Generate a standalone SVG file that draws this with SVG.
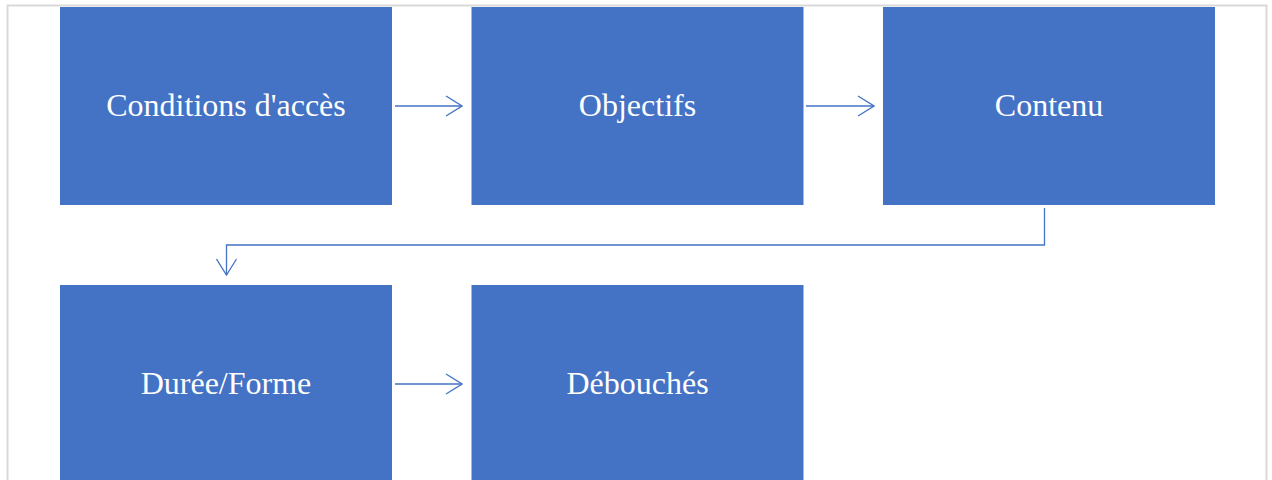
<svg xmlns="http://www.w3.org/2000/svg" width="1272" height="480" viewBox="0 0 1272 480">
<defs>
<style>
.box{fill:#4472c4}
.lbl{fill:#fff;font-family:"Liberation Serif","Times New Roman",serif;font-size:32px;text-anchor:middle;dominant-baseline:central}
.con{fill:none;stroke:#4472c4;stroke-width:1.3}
</style>
<marker id="ah" viewBox="0 0 18 22" refX="17" refY="11" markerWidth="18" markerHeight="22" markerUnits="userSpaceOnUse" orient="auto">
<path d="M1,1 L17,11 L1,21" fill="none" stroke="#4472c4" stroke-width="1.3"/>
</marker>
</defs>
<rect x="0" y="0" width="1272" height="480" fill="#fff"/>
<rect x="7.5" y="5.5" width="1259" height="480" fill="none" stroke="#d9d9d9" stroke-width="2"/>
<g id="n1"><rect class="box" x="60" y="7" width="332" height="198"/><text class="lbl" x="226" y="105">Conditions d'accès</text></g>
<g id="n2"><rect class="box" x="471.5" y="7" width="332" height="198"/><text class="lbl" x="637.5" y="105">Objectifs</text></g>
<g id="n3"><rect class="box" x="883" y="7" width="332" height="198"/><text class="lbl" x="1049" y="105">Contenu</text></g>
<g id="n4"><rect class="box" x="60" y="285" width="332" height="200"/><text class="lbl" x="226" y="383">Durée/Forme</text></g>
<g id="n5"><rect class="box" x="471.5" y="285" width="332" height="200"/><text class="lbl" x="637.5" y="383">Débouchés</text></g>
<g id="connectors">
<path class="con" d="M395,106 H462" marker-end="url(#ah)"/>
<path class="con" d="M806,106 H874" marker-end="url(#ah)"/>
<path class="con" d="M1044.5,208 V245 H226.5 V275" marker-end="url(#ah)"/>
<path class="con" d="M395,384 H462" marker-end="url(#ah)"/>
</g>
</svg>
